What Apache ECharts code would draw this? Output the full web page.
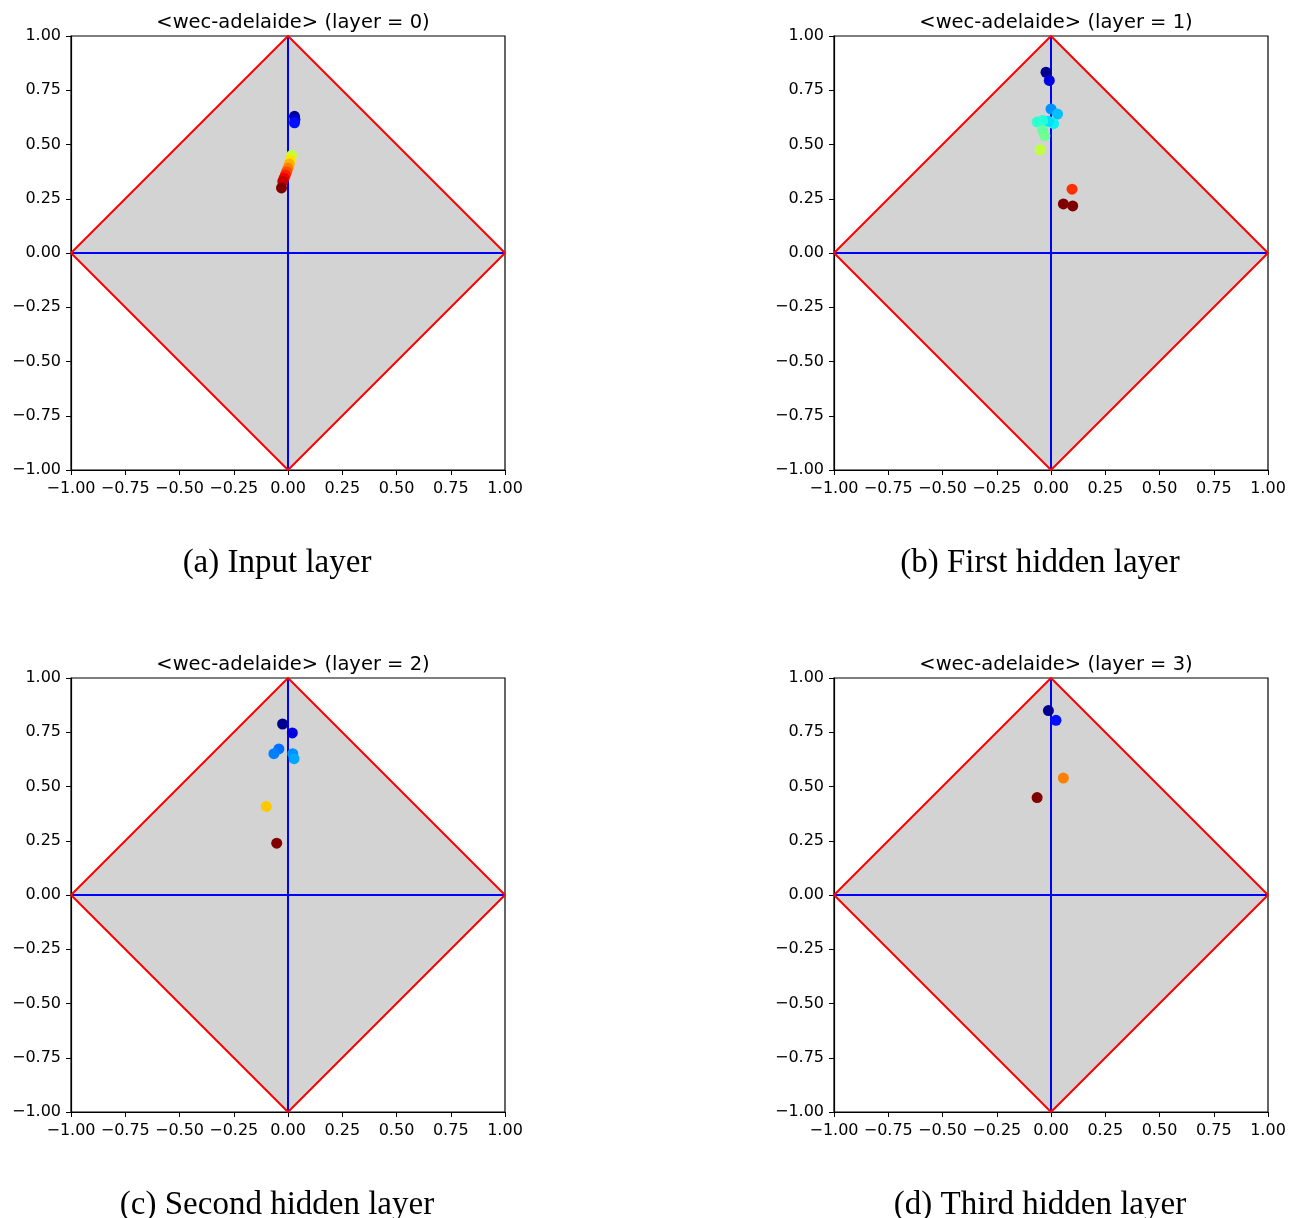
<!DOCTYPE html>
<html>
<head>
<meta charset="utf-8">
<script src="https://cdn.jsdelivr.net/npm/echarts@6/dist/echarts.min.js"></script>
<style>
html,body{margin:0;padding:0;background:#fff;}
#chart{width:1302px;height:1218px;}
</style>
</head>
<body>
<div id="chart"></div>
<script>
// 面板标题和图注
var panelTitles = ['<wec-adelaide> (layer = 0)', '<wec-adelaide> (layer = 1)', '<wec-adelaide> (layer = 2)', '<wec-adelaide> (layer = 3)'];
var captions = ['(a) Input layer', '(b) First hidden layer', '(c) Second hidden layer', '(d) Third hidden layer'];

// 菱形边界
var diamondX = [1, 0, -1, 0, 1];
var diamondY = [0, 1, 0, -1, 0];

// 各层点 [x, y, 颜色]
var layer0 = [
	[0.03, 0.63, '#00008f'],
	[0.032, 0.615, '#0000c8'],
	[0.03, 0.60, '#0010ff'],
	[0.017, 0.45, '#bfff40'],
	[0.012, 0.43, '#ffe600'],
	[0.006, 0.41, '#ffb000'],
	[0.0, 0.39, '#ff8000'],
	[-0.006, 0.375, '#ff5000'],
	[-0.012, 0.36, '#ff2000'],
	[-0.018, 0.345, '#ee0000'],
	[-0.024, 0.33, '#c80000'],
	[-0.03, 0.30, '#800000']
];
var layer1 = [
	[-0.023, 0.833, '#00008f'],
	[-0.008, 0.795, '#0000e0'],
	[0.0, 0.664, '#0090ff'],
	[0.03, 0.64, '#00c0ff'],
	[0.012, 0.596, '#10f0f0'],
	[-0.012, 0.607, '#00e0ff'],
	[-0.038, 0.611, '#20ffe0'],
	[-0.064, 0.604, '#30ffd0'],
	[-0.038, 0.565, '#60ffa0'],
	[-0.028, 0.54, '#70ff90'],
	[-0.05, 0.476, '#c0ff40'],
	[0.097, 0.294, '#ff3000'],
	[0.057, 0.226, '#800000'],
	[0.1, 0.217, '#800000']
];
var layer2 = [
	[-0.025, 0.788, '#00008f'],
	[0.02, 0.747, '#0000e0'],
	[-0.042, 0.673, '#0070ff'],
	[-0.065, 0.651, '#0080ff'],
	[0.022, 0.651, '#0090ff'],
	[0.028, 0.628, '#00a8ff'],
	[-0.10, 0.408, '#ffc800'],
	[-0.052, 0.239, '#800000']
];
var layer3 = [
	[-0.012, 0.85, '#00008f'],
	[0.023, 0.805, '#0010ff'],
	[0.057, 0.539, '#ff8000'],
	[-0.064, 0.449, '#800000']
];
var layers = [layer0, layer1, layer2, layer3];

var gridPos = [
	{left: 71, top: 36},
	{left: 834, top: 36},
	{left: 71, top: 678},
	{left: 834, top: 678}
];
var plotSize = 434;

function fmt(v) {
	return v.toFixed(2).replace('-', '\u2212');
}

var grids = [], xAxes = [], yAxes = [], series = [], titles = [];
for (var i = 0; i < 4; i++) {
	grids.push({
		left: gridPos[i].left, top: gridPos[i].top, width: plotSize, height: plotSize,
		show: true, borderColor: '#000', borderWidth: 1.2, backgroundColor: 'transparent'
	});
	var axisCommon = {
		gridIndex: i, type: 'value', min: -1, max: 1, interval: 0.25,
		splitLine: {show: false},
		axisLine: {show: true, onZero: false, lineStyle: {color: '#000', width: 1.2}},
		axisTick: {show: true, inside: false, length: 5, lineStyle: {color: '#000'}},
		axisLabel: {color: '#000', fontSize: 16, fontFamily: 'DejaVu Sans', formatter: fmt,
			showMinLabel: true, showMaxLabel: true}
	};
	xAxes.push(Object.assign({}, axisCommon, {
		axisLabel: Object.assign({}, axisCommon.axisLabel, {margin: 11})
	}));
	yAxes.push(Object.assign({}, axisCommon, {
		axisLabel: Object.assign({}, axisCommon.axisLabel, {margin: 10})
	}));

	// 灰色菱形填充
	series.push({
		type: 'custom', xAxisIndex: i, yAxisIndex: i, silent: true, z: 1,
		data: [0],
		renderItem: function (params, api) {
			var pts = [];
			for (var k = 0; k < diamondX.length - 1; k++) {
				pts.push(api.coord([diamondX[k], diamondY[k]]));
			}
			return {type: 'polygon', shape: {points: pts}, style: {fill: '#d3d3d3'}};
		}
	});
	// 蓝色坐标线
	series.push({
		type: 'line', xAxisIndex: i, yAxisIndex: i, symbol: 'none', silent: true, z: 2,
		data: [[-1, 0], [1, 0]], lineStyle: {color: '#0000ff', width: 2}
	});
	series.push({
		type: 'line', xAxisIndex: i, yAxisIndex: i, symbol: 'none', silent: true, z: 2,
		data: [[0, -1], [0, 1]], lineStyle: {color: '#0000ff', width: 2}
	});
	// 红色菱形边
	series.push({
		type: 'line', xAxisIndex: i, yAxisIndex: i, symbol: 'none', silent: true, z: 3,
		data: diamondX.map(function (x, k) { return [x, diamondY[k]]; }),
		lineStyle: {color: '#ff0000', width: 2}
	});
	// 散点
	series.push({
		type: 'scatter', xAxisIndex: i, yAxisIndex: i, z: 4,
		symbolSize: 11,
		data: layers[i].map(function (p) {
			return {value: [p[0], p[1]], itemStyle: {color: p[2], opacity: 1}};
		})
	});

	titles.push({
		text: panelTitles[i],
		left: gridPos[i].left + plotSize / 2, top: gridPos[i].top - 28, textAlign: 'center',
		textStyle: {fontFamily: 'DejaVu Sans', fontSize: 19.5, fontWeight: 'normal', color: '#000'}
	});
	titles.push({
		text: captions[i],
		left: gridPos[i].left + plotSize / 2 - 16, top: gridPos[i].top + 506, textAlign: 'center',
		textStyle: {fontFamily: 'Liberation Serif', fontSize: 33, fontWeight: 'normal', color: '#000'}
	});
}

var myChart = echarts.init(document.getElementById('chart'));
myChart.setOption({
	animation: false,
	title: titles,
	grid: grids,
	xAxis: xAxes,
	yAxis: yAxes,
	series: series
});
</script>
</body>
</html>
